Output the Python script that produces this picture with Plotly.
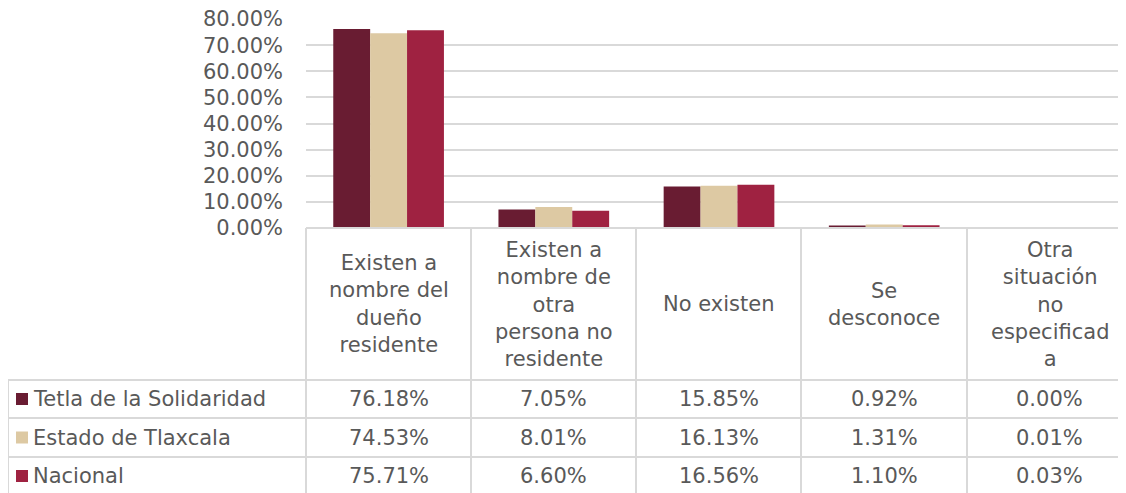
import plotly.graph_objects as go

categories = ["Existen a nombre del dueño residente",
              "Existen a nombre de otra persona no residente",
              "No existen", "Se desconoce",
              "Otra situación no especificada"]
header_labels = ["Existen a<br>nombre del<br>dueño<br>residente",
                 "Existen a<br>nombre de<br>otra<br>persona no<br>residente",
                 "No existen",
                 "Se<br>desconoce",
                 "Otra<br>situación<br>no<br>especificad<br>a"]
series_names = ["Tetla de la Solidaridad", "Estado de Tlaxcala", "Nacional"]
tetla = [76.18, 7.05, 15.85, 0.92, 0.00]
tlaxcala = [74.53, 8.01, 16.13, 1.31, 0.01]
nacional = [75.71, 6.60, 16.56, 1.10, 0.03]
series_values = [tetla, tlaxcala, nacional]
colors = ["#691C32", "#DDC9A3", "#9F2241"]
y_ticks = [0, 10, 20, 30, 40, 50, 60, 70, 80]

# page geometry (page pixels); figure sits at (8, 8) inside the page
OFF = 8
PAGE_W, PAGE_H = 1126, 493
PL, PT, PBOT, PR = 306, 19, 228, 1126   # plot area in page pixels
W, H = PAGE_W - OFF, PAGE_H - OFF
L, T = PL - OFF, PT - OFF
R = PAGE_W - PR
B = H - (PBOT - OFF)
PW = PR - PL
PH = PBOT - PT
FONT = "DejaVu Sans"
FS = 21
TXT = "#595959"
GRID = "#D9D9D9"

def px(xp):
    return (xp - PL) / PW

def py(yp):
    return (PBOT - yp) / PH

fig = go.Figure()
for name, vals, col in zip(series_names, series_values, colors):
    fig.add_trace(go.Bar(x=categories, y=vals, name=name, marker_color=col,
                         marker_line_width=0, showlegend=False))

shapes = []
table_top, header_bottom = 228, 380
row_edges = [380, 418, 457, 495]
col_edges = [306, 471, 636, 801, 967, 1132]
left_edge = 8
line = dict(color=GRID, width=2)
shapes.append(dict(type="line", xref="paper", yref="paper", x0=px(306), x1=px(1132),
                   y0=py(table_top), y1=py(table_top), line=line))
for ye in row_edges:
    shapes.append(dict(type="line", xref="paper", yref="paper", x0=px(left_edge), x1=px(1132),
                       y0=py(ye), y1=py(ye), line=line))
for xe in col_edges:
    shapes.append(dict(type="line", xref="paper", yref="paper", x0=px(xe), x1=px(xe),
                       y0=py(table_top), y1=py(row_edges[-1]), line=line))
shapes.append(dict(type="line", xref="paper", yref="paper", x0=px(left_edge), x1=px(left_edge),
                   y0=py(row_edges[0]), y1=py(row_edges[-1]), line=line))

annotations = []
for i, lab in enumerate(header_labels):
    xc = (col_edges[i] + col_edges[i + 1]) / 2
    annotations.append(dict(x=px(xc), y=py((table_top + header_bottom) / 2), xref="paper", yref="paper",
                            text=lab, showarrow=False, xanchor="center", yanchor="middle",
                            font=dict(family=FONT, size=FS, color=TXT), align="center"))
for r, (name, vals, col) in enumerate(zip(series_names, series_values, colors)):
    yc = (row_edges[r] + row_edges[r + 1]) / 2
    shapes.append(dict(type="rect", xref="paper", yref="paper", x0=px(16), x1=px(28),
                       y0=py(yc - 6), y1=py(yc + 6), fillcolor=col, line=dict(width=0)))
    annotations.append(dict(x=px(31), y=py(yc), xref="paper", yref="paper", text=name,
                            showarrow=False, xanchor="left", yanchor="middle",
                            font=dict(family=FONT, size=FS, color=TXT)))
    for i, v in enumerate(vals):
        xc = (col_edges[i] + col_edges[i + 1]) / 2
        annotations.append(dict(x=px(xc), y=py(yc), xref="paper", yref="paper",
                                text=f"{v:.2f}%", showarrow=False, xanchor="center", yanchor="middle",
                                font=dict(family=FONT, size=FS, color=TXT)))

ncat = len(categories)
fig.update_layout(
    width=W, height=H,
    margin=dict(l=L, r=R, t=T, b=B),
    paper_bgcolor="white", plot_bgcolor="white",
    barmode="group", bargap=0.33, bargroupgap=0,
    font=dict(family=FONT, size=FS, color=TXT),
    xaxis=dict(showticklabels=False, showgrid=False, zeroline=False, showline=False,
               range=[-0.5, ncat - 0.5 - (1132 - PR) / 165]),
    yaxis=dict(range=[0, 80.02], tickvals=y_ticks, ticktext=[f"{v:.2f}%" for v in y_ticks],
               showgrid=True, gridcolor=GRID, gridwidth=1.5, zeroline=False, showline=False,
               ticks="", ticklabelstandoff=22, ticklabeloverflow="allow",
               tickfont=dict(family=FONT, size=FS, color=TXT)),
    shapes=shapes, annotations=annotations,
)
fig.write_html("out.html")
